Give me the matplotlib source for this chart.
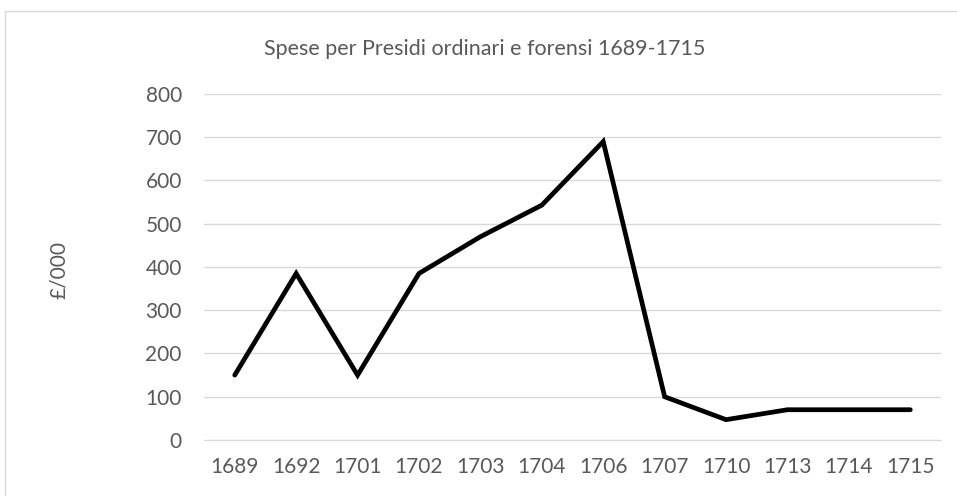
import matplotlib.pyplot as plt
from matplotlib.patches import Rectangle

# dati
anni = ["1689", "1692", "1701", "1702", "1703", "1704", "1706", "1707", "1710", "1713", "1714", "1715"]
spese = [150, 385, 150, 385, 470, 543, 690, 100, 47, 70, 70, 70]
yticks = [0, 100, 200, 300, 400, 500, 600, 700, 800]

plt.rcParams['font.family'] = ['Lato', 'DejaVu Sans']

fig = plt.figure(figsize=(9.57, 4.96), dpi=100)
ax = fig.add_axes([0.2132, 0.1129, 0.7701, 0.6976])

x = list(range(len(anni)))
ax.plot(x, spese, color="black", linewidth=3.4, solid_joinstyle="miter", solid_capstyle="round", zorder=3)

ax.set_xlim(-0.5, len(anni) - 0.5)
ax.set_ylim(0, 800)
ax.set_xticks(x)
ax.set_xticklabels(anni)
ax.set_yticks(yticks)
ax.tick_params(axis="both", length=0, labelsize=15, labelcolor="#595959")
ax.tick_params(axis="x", pad=12)
ax.tick_params(axis="y", pad=16)
ax.grid(axis="y", color="#d9d9d9", linewidth=1)
ax.set_axisbelow(True)
for s in ["top", "right", "left"]:
    ax.spines[s].set_visible(False)
ax.spines["bottom"].set_color("#d9d9d9")

fig.text(484.5 / 957, 1 - 49 / 496, "Spese per Presidi ordinari e forensi 1689-1715", ha="center", va="center",
         fontsize=15.5, color="#595959")
fig.text(58.5 / 957, 1 - 270 / 496, "£/000", rotation=90, ha="center", va="center", fontsize=15, color="#595959")

# bordo del grafico
fig.patches.append(Rectangle((5 / 957, -0.01), 1.0, 1 - 11 / 496 + 0.01, transform=fig.transFigure,
                             fill=False, edgecolor="#d9d9d9", linewidth=1))

fig.savefig("out.png", dpi=100)
